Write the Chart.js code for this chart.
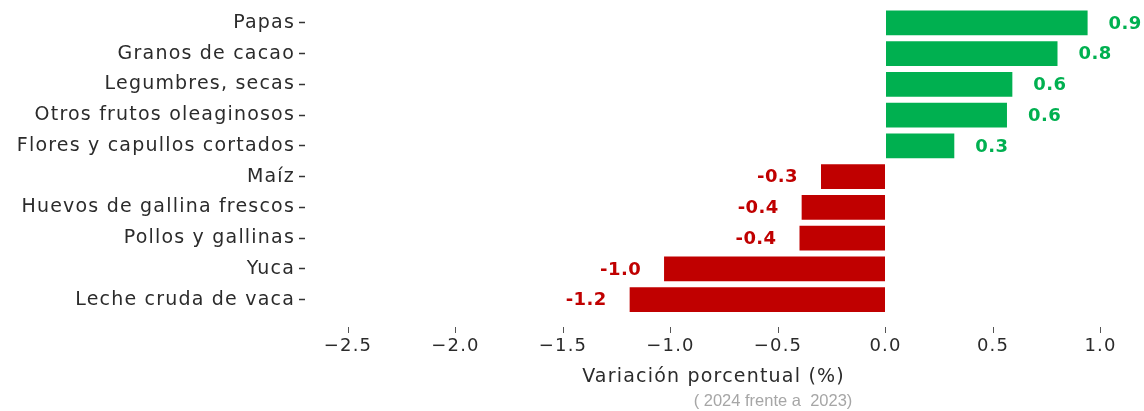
<!DOCTYPE html>
<html>
<head>
<meta charset="utf-8">
<script src="https://cdn.jsdelivr.net/npm/chart.js@4.4.1/dist/chart.umd.min.js"></script>
<style>
    html, body { margin: 0; padding: 0; background: #fff; }
    #contenedor { width: 1144px; height: 411px; position: relative; }
</style>
</head>
<body>
<div id="contenedor"><canvas id="graficoVariacion"></canvas></div>
<script>
// datos
const categorias = [
    'Papas',
    'Granos de cacao',
    'Legumbres, secas',
    'Otros frutos oleaginosos',
    'Flores y capullos cortados',
    'Maíz',
    'Huevos de gallina frescos',
    'Pollos y gallinas',
    'Yuca',
    'Leche cruda de vaca'
];
const variaciones = [0.94, 0.80, 0.59, 0.565, 0.32, -0.30, -0.39, -0.40, -1.03, -1.19];
const ticksX = [-2.5, -2.0, -1.5, -1.0, -0.5, 0.0, 0.5, 1.0];

const VERDE = '#00B050';
const ROJO = '#C00000';
const TEXTO = '#2b2b2b';
const FUENTE = '"DejaVu Sans", sans-serif';

// Century Gothic no esta, se abre un poco el espaciado
const espaciado = {
    id: 'espaciado',
    beforeDraw(chart) {
        chart.ctx.letterSpacing = '1.2px';
    }
};

// etiquetas con el valor al lado de cada barra
const etiquetasValor = {
    id: 'etiquetasValor',
    afterDatasetsDraw(chart) {
        const ctx = chart.ctx;
        const meta = chart.getDatasetMeta(0);
        ctx.save();
        ctx.letterSpacing = '0.4px';
        ctx.font = 'bold 18px ' + FUENTE;
        ctx.textBaseline = 'middle';
        meta.data.forEach((barra, i) => {
            const v = variaciones[i];
            ctx.fillStyle = v >= 0 ? VERDE : ROJO;
            if (v >= 0) {
                ctx.textAlign = 'left';
                ctx.fillText(v.toFixed(1), barra.x + 21, barra.y + 1);
            } else {
                ctx.textAlign = 'right';
                ctx.fillText(v.toFixed(1), barra.x - 23, barra.y + 1);
            }
        });
        ctx.restore();
    }
};

// nota bajo el titulo del eje
const notaEje = {
    id: 'notaEje',
    afterDraw(chart) {
        const ctx = chart.ctx;
        const x = chart.scales.x;
        ctx.save();
        ctx.letterSpacing = '0px';
        ctx.font = '16.5px "Liberation Sans Narrow", "Liberation Sans", sans-serif';
        ctx.fillStyle = '#a6a6a6';
        ctx.textAlign = 'center';
        ctx.textBaseline = 'middle';
        ctx.fillText('( 2024 frente a  2023)', x.getPixelForValue(-0.5) - 5, 401);
        ctx.restore();
    }
};

const ctx = document.getElementById('graficoVariacion').getContext('2d');

new Chart(ctx, {
    type: 'bar',
    data: {
        labels: categorias,
        datasets: [{
            data: variaciones,
            backgroundColor: variaciones.map(v => v >= 0 ? VERDE : ROJO),
            borderWidth: 0,
            barPercentage: 0.8,
            categoryPercentage: 1.0
        }]
    },
    options: {
        indexAxis: 'y',
        responsive: true,
        maintainAspectRatio: false,
        animation: false,
        layout: { padding: { top: 7.5, right: 22, left: 0, bottom: 0 } },
        plugins: {
            legend: { display: false },
            tooltip: { enabled: false }
        },
        scales: {
            x: {
                min: -2.7,
                max: 1.1,
                afterBuildTicks: (s) => { s.ticks = ticksX.map(v => ({ value: v })); },
                afterFit: (s) => { s.height = 96; },
                border: { display: false },
                grid: {
                    drawOnChartArea: false,
                    drawTicks: true,
                    tickLength: 18,
                    tickBorderDash: [0, 12, 6, 100],
                    tickColor: '#555',
                    tickWidth: 1
                },
                ticks: {
                    padding: 3,
                    color: TEXTO,
                    font: { family: FUENTE, size: 18 },
                    callback: (v) => (v < 0 ? '\u2212' : '') + Math.abs(v).toFixed(1)
                },
                title: {
                    display: true,
                    text: 'Variación porcentual (%)',
                    color: TEXTO,
                    font: { family: FUENTE, size: 19 },
                    padding: { top: 0, bottom: 23 }
                }
            },
            y: {
                afterFit: (s) => {
                    s.width = 305;
                    s.paddingTop = 0;
                    s.paddingBottom = 0;
                },
                border: { display: false },
                grid: {
                    offset: false,
                    drawOnChartArea: false,
                    drawTicks: true,
                    tickLength: 6,
                    tickColor: '#333',
                    tickWidth: 1.5
                },
                ticks: {
                    padding: 4,
                    color: TEXTO,
                    font: { family: FUENTE, size: 19 }
                }
            }
        }
    },
    plugins: [espaciado, etiquetasValor, notaEje]
});
</script>
</body>
</html>
